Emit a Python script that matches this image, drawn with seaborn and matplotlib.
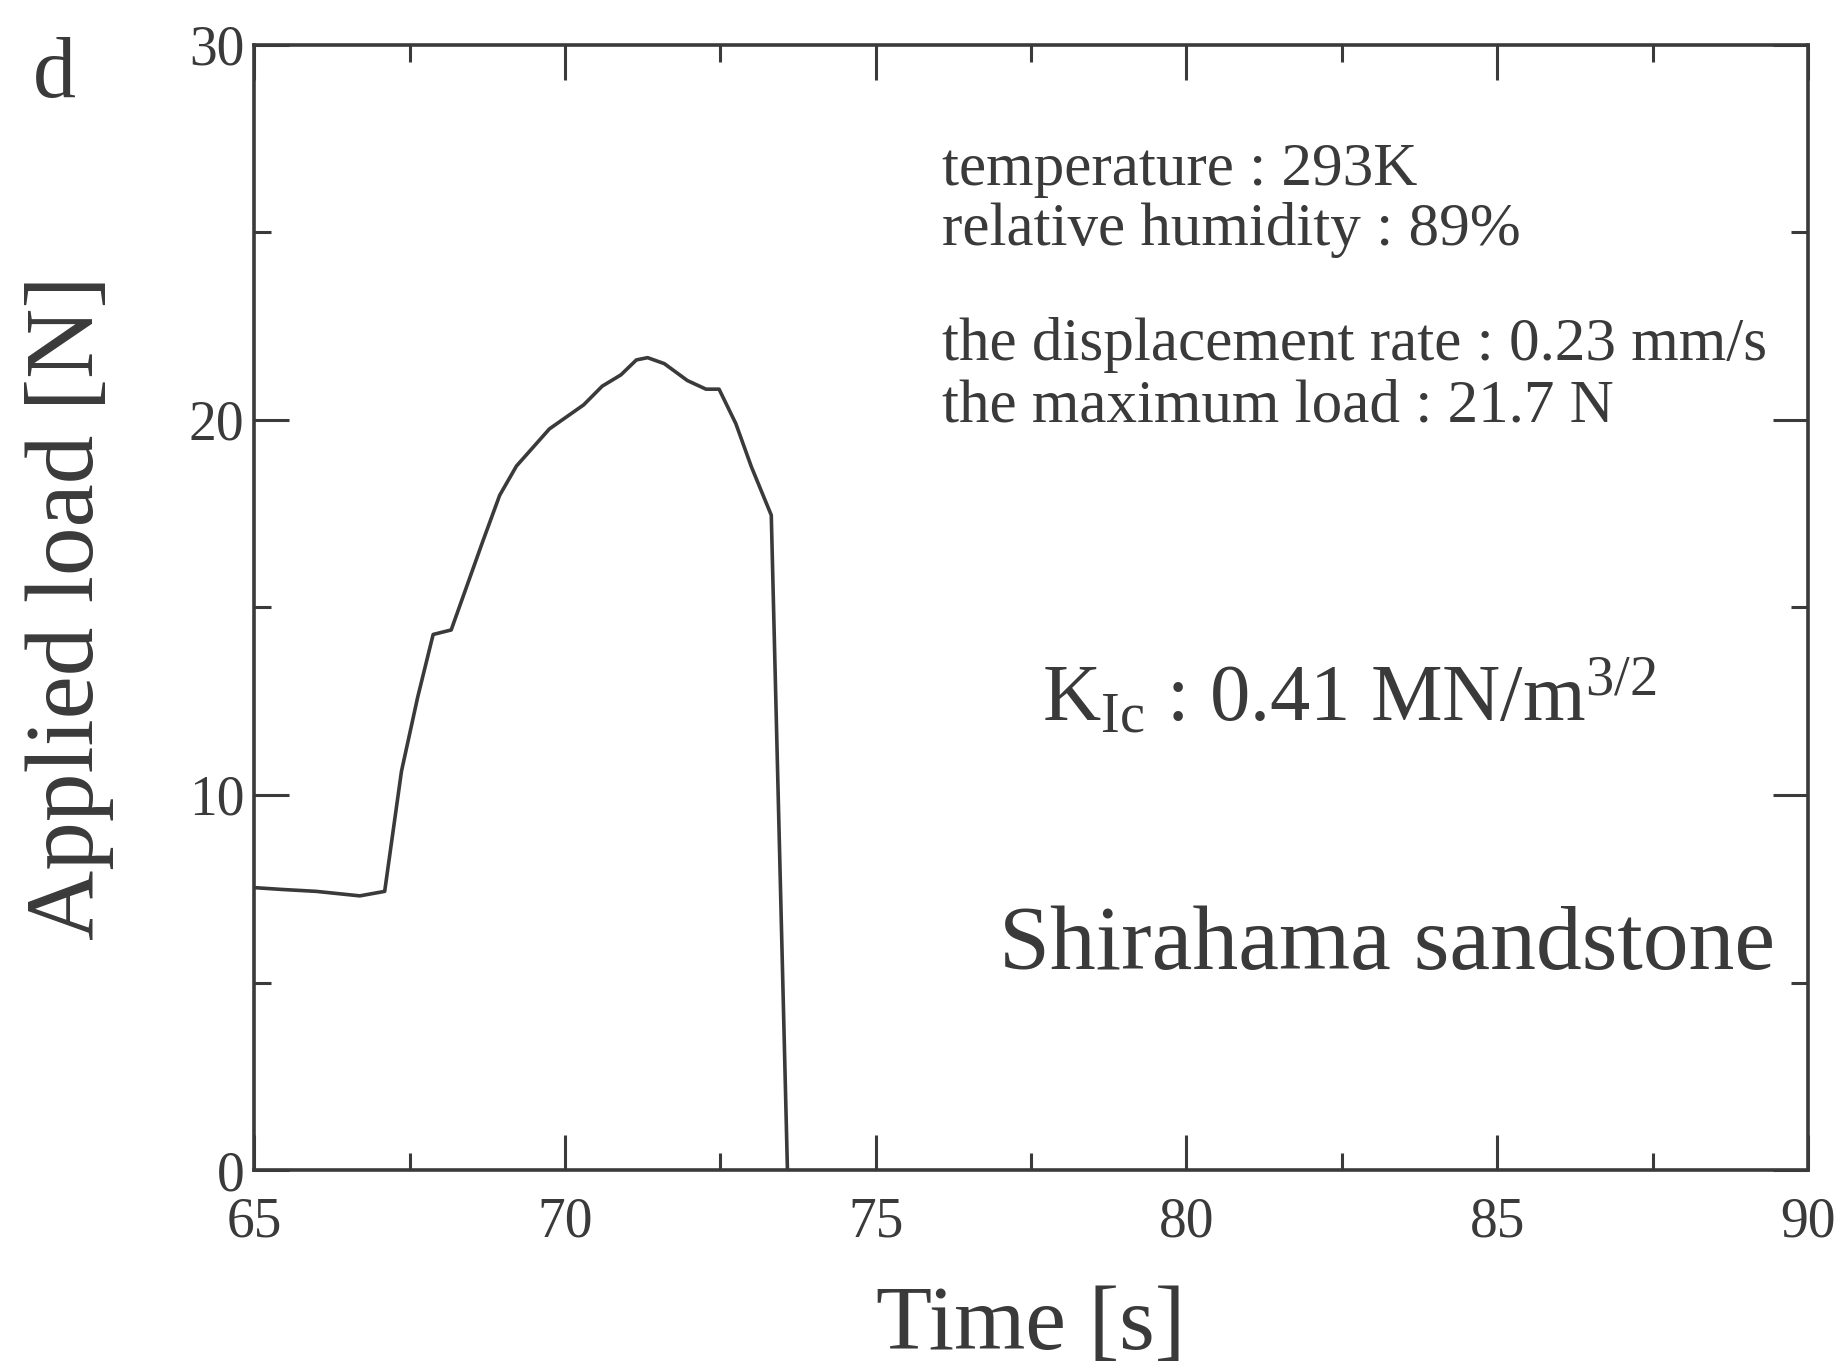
import matplotlib
matplotlib.use("Agg")
import matplotlib.pyplot as plt
import seaborn as sns
import pandas as pd
from matplotlib.ticker import MultipleLocator

# Data
time_s = [65.0, 65.46, 66.0, 66.7, 67.1, 67.37, 67.63, 67.88, 68.17, 68.68,
          68.95, 69.22, 69.75, 70.3, 70.6, 70.9, 71.15, 71.33, 71.6, 71.97,
          72.27, 72.48, 72.75, 73.0, 73.32, 73.58]
load_n = [7.53, 7.48, 7.43, 7.31, 7.43, 10.63, 12.6, 14.28, 14.4, 16.77,
          17.99, 18.77, 19.76, 20.4, 20.9, 21.2, 21.6, 21.66, 21.5, 21.05,
          20.82, 20.82, 19.9, 18.75, 17.46, 0.0]

x_ticks = [65, 70, 75, 80, 85, 90]
y_ticks = [0, 10, 20, 30]

sns.set_style("ticks")
plt.rcParams['font.family'] = ['Liberation Serif', 'DejaVu Serif']
plt.rcParams['mathtext.fontset'] = 'custom'
plt.rcParams['mathtext.rm'] = 'Liberation Serif'
plt.rcParams['mathtext.it'] = 'Liberation Serif:italic'

ink = '#3a3a3a'
fig = plt.figure(figsize=(18.47, 13.72), dpi=100)
ax = fig.add_axes([0.1376, 0.1472, 0.8413, 0.8201])

df = pd.DataFrame({'Time [s]': time_s, 'Applied load [N]': load_n})
sns.lineplot(data=df, x='Time [s]', y='Applied load [N]', ax=ax,
             color=ink, linewidth=2.6, sort=False, estimator=None)

ax.set_xlim(65, 90)
ax.set_ylim(0, 30)
ax.set_xticks(x_ticks)
ax.set_yticks(y_ticks)
ax.xaxis.set_minor_locator(MultipleLocator(2.5))
ax.yaxis.set_minor_locator(MultipleLocator(5))
ax.tick_params(which='both', direction='in', top=True, right=True,
               color=ink, width=2.2, labelsize=40, labelcolor=ink)
ax.tick_params(axis='x', which='major', pad=19)
ax.tick_params(axis='y', which='major', pad=7)
ax.tick_params(which='major', length=25)
ax.tick_params(which='minor', length=12.5)
for s in ax.spines.values():
    s.set_linewidth(2.6)
    s.set_color(ink)

ax.set_xlabel('Time [s]', fontsize=66, color=ink, labelpad=27)
ax.set_ylabel('Applied load [N]', fontsize=70, color=ink, labelpad=54)

txt = dict(color=ink, fontsize=44, ha='left', va='baseline')
ax.text(76.07, 26.26, 'temperature : 293K', **txt)
ax.text(76.07, 24.66, 'relative humidity : 89%', **txt)
ax.text(76.07, 21.6, 'the displacement rate : 0.23 mm/s', **txt)
ax.text(76.07, 19.95, 'the maximum load : 21.7 N', **txt)
ax.text(77.68, 11.97, r'K$_{\mathrm{Ic}}$ : 0.41 MN/m$^{3/2}$', color=ink,
        fontsize=58, ha='left', va='baseline')
ax.text(76.98, 5.37, 'Shirahama sandstone', color=ink, fontsize=66,
        ha='left', va='baseline')

fig.text(0.018, 0.9296, 'd', fontsize=62, color=ink, ha='left', va='baseline')

fig.savefig('out.png', dpi=100, facecolor='white')
